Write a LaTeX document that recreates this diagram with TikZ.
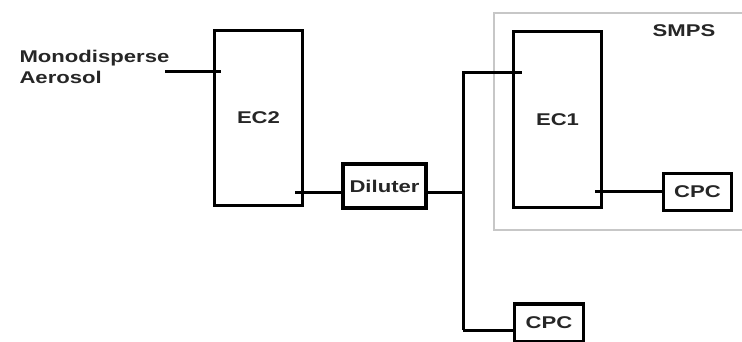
\documentclass[tikz,border=0pt]{standalone}
\usepackage{fontspec}
\setmainfont[FakeStretch=1.3]{Liberation Sans}
\usetikzlibrary{calc, positioning}

\tikzset{
  unit/.style={draw, line width=3.2pt, inner sep=0pt,
    font=\bfseries\fontsize{17}{21}\selectfont, text=black!85},
  tag/.style={font=\bfseries\fontsize{17}{21}\selectfont, text=black!85},
  pipe/.style={line width=3pt},
}

\begin{document}
\begin{tikzpicture}[x=1pt,y=-1pt]
\useasboundingbox (0,0) rectangle (742,342);

\coordinate (in) at (165,72);
\coordinate (J) at (463,193);
\coordinate (Jtop) at (463,73);
\coordinate (Jbot) at (463,330);

\draw[black!22, line width=2pt] (494,13) rectangle (780,230);

\node[unit, minimum width=88, minimum height=175] (EC2) at (258.5,118) {EC2};
\node[unit, minimum width=83, minimum height=44] (Dil) at (384.5,186) {Diluter};
\node[unit, minimum width=88, minimum height=176] (EC1) at (557.5,119.5) {EC1};
\node[unit, minimum width=68, minimum height=37] (CPCa) at (697.5,192) {CPC};
\node[unit, minimum width=69, minimum height=38] (CPCb) at (549,323) {CPC};

\node[tag, anchor=west, align=left] (aer) at (16,67) {Monodisperse\\Aerosol};
\node[tag] (smps) at (684,31) {SMPS};

\draw[pipe] (in) -- ([xshift=8]EC2.west |- in);
\draw[pipe] ([xshift=-9]EC2.east |- J) -- (Dil.west |- J);
\draw[pipe] (Dil.east |- J) -- (J);
\draw[pipe] (Jbot) -- (Jtop) -- ([xshift=10]EC1.west |- Jtop);
\draw[pipe] (Jbot) -- (CPCb.west |- Jbot);
\draw[pipe] ([xshift=-8]EC1.east |- CPCa) -- (CPCa.west);
\end{tikzpicture}
\end{document}
